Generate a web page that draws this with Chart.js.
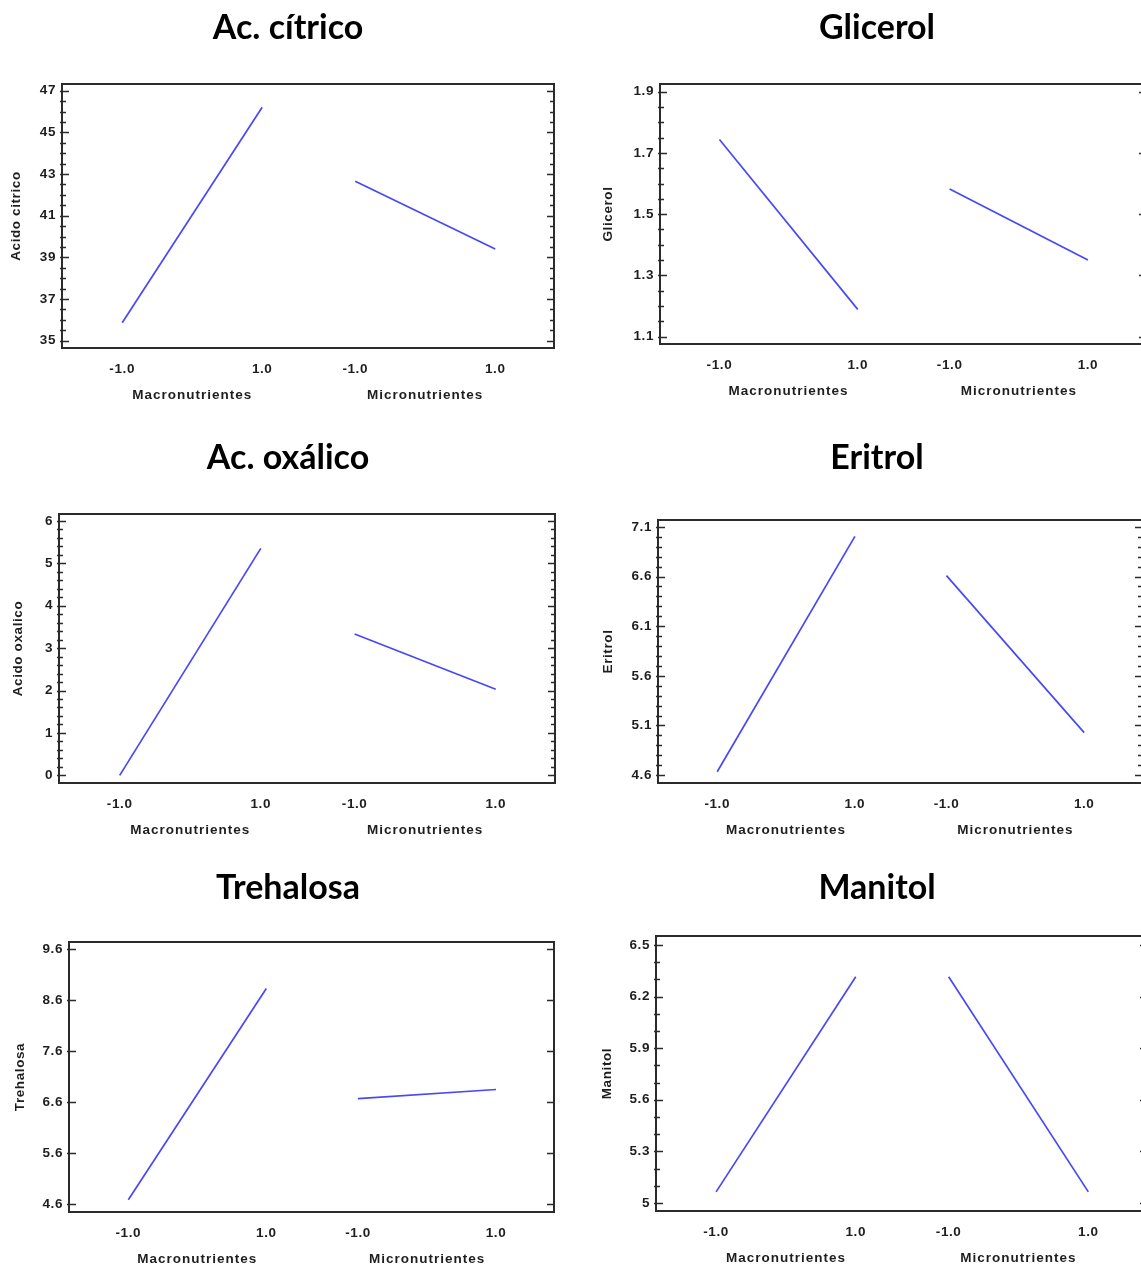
<!DOCTYPE html>
<html>
<head>
<meta charset="utf-8">
<script src="https://cdn.jsdelivr.net/npm/chart.js@4.4.1/dist/chart.umd.min.js"></script>
<style>
html, body { margin: 0; padding: 0; background: #fff; overflow: hidden; }
#page { position: relative; width: 1141px; height: 1266px; overflow: hidden; background: #fff; }
canvas { position: absolute; }
</style>
</head>
<body>
<div id="page">
  <canvas id="citrico" width="576" height="420" style="left:0;top:0"></canvas>
  <canvas id="glicerol" width="576" height="420" style="left:589px;top:0"></canvas>
  <canvas id="oxalico" width="576" height="420" style="left:0;top:430px"></canvas>
  <canvas id="eritrol" width="576" height="420" style="left:589px;top:430px"></canvas>
  <canvas id="trehalosa" width="576" height="406" style="left:0;top:860px"></canvas>
  <canvas id="manitol" width="576" height="406" style="left:589px;top:860px"></canvas>
</div>
<script>
// --- datos ---
const levels = [-1, 1];
const levelLabels = ['-1.0', '1.0'];
const factorNames = ['Macronutrientes', 'Micronutrientes'];
const microShift = 3.33;   // separación del segundo factor en el eje x

const citricoMacro = [35.86, 46.2];
const citricoMicro = [42.65, 39.4];
const citricoTicks = [35, 37, 39, 41, 43, 45, 47];

const glicerolMacro = [1.744, 1.189];
const glicerolMicro = [1.582, 1.35];
const glicerolTicks = [1.1, 1.3, 1.5, 1.7, 1.9];

const oxalicoMacro = [0.0, 5.35];
const oxalicoMicro = [3.33, 2.03];
const oxalicoTicks = [0, 1, 2, 3, 4, 5, 6];

const eritrolMacro = [4.633, 7.005];
const eritrolMicro = [6.61, 5.027];
const eritrolTicks = [4.6, 5.1, 5.6, 6.1, 6.6, 7.1];

const trehalosaMacro = [4.69, 8.83];
const trehalosaMicro = [6.67, 6.85];
const trehalosaTicks = [4.6, 5.6, 6.6, 7.6, 8.6, 9.6];

const manitolMacro = [5.064, 6.315];
const manitolMicro = [6.315, 5.064];
const manitolTicks = [5, 5.3, 5.6, 5.9, 6.2, 6.5];

// --- paneles ---
const panels = [
  { id: 'citrico', title: 'Ac. cítrico', yTitle: 'Acido citrico', macro: citricoMacro, micro: citricoMicro,
    ticks: citricoTicks, minor: 0.5, yMin: 34.65, yMax: 47.32, yTitleX: 16,
    box: { left: 62, top: 84, right: 554, bottom: 348 } },
  { id: 'glicerol', title: 'Glicerol', yTitle: 'Glicerol', macro: glicerolMacro, micro: glicerolMicro,
    ticks: glicerolTicks, minor: 0.05, yMin: 1.076, yMax: 1.925, yTitleX: 19,
    box: { left: 71, top: 84, right: 557, bottom: 344 } },
  { id: 'oxalico', title: 'Ac. oxálico', yTitle: 'Acido oxalico', macro: oxalicoMacro, micro: oxalicoMicro,
    ticks: oxalicoTicks, minor: 0.2, yMin: -0.18, yMax: 6.16, yTitleX: 18,
    box: { left: 59, top: 84, right: 555, bottom: 353 } },
  { id: 'eritrol', title: 'Eritrol', yTitle: 'Eritrol', macro: eritrolMacro, micro: eritrolMicro,
    ticks: eritrolTicks, minor: 0.1, yMin: 4.52, yMax: 7.17, yTitleX: 19,
    box: { left: 69, top: 90, right: 553, bottom: 353 } },
  { id: 'trehalosa', title: 'Trehalosa', yTitle: 'Trehalosa', macro: trehalosaMacro, micro: trehalosaMicro,
    ticks: trehalosaTicks, minor: null, yMin: 4.45, yMax: 9.74, yTitleX: 20,
    box: { left: 69, top: 82, right: 554, bottom: 352 } },
  { id: 'manitol', title: 'Manitol', yTitle: 'Manitol', macro: manitolMacro, micro: manitolMicro,
    ticks: manitolTicks, minor: 0.1, yMin: 4.953, yMax: 6.552, yTitleX: 18,
    box: { left: 67, top: 76, right: 558, bottom: 351 } }
];

const LINE_COLOR = '#4848f4';
const TEXT_COLOR = '#1e1e1e';
const AXIS_FONT = '"Liberation Sans", Arial, sans-serif';
const X_AXIS_H = 40;

// Título centrado en el lienzo, marco, marcas hacia dentro y nombres de los factores
const boxPlugin = {
  id: 'boxTicks',
  beforeDraw(chart) {
    chart.ctx.letterSpacing = '0.6px';
  },
  afterDraw(chart) {
    const p = chart.options.plugins.boxTicks;
    const { ctx, chartArea: a } = chart;
    const x = chart.scales.x, y = chart.scales.y;
    ctx.save();
    ctx.strokeStyle = '#2b2b2b';
    ctx.lineWidth = 1.5;
    const tick = (v, len) => {
      const py = Math.round(y.getPixelForValue(v)) + 0.5;
      ctx.beginPath();
      ctx.moveTo(a.left - 2, py); ctx.lineTo(a.left + len, py);
      ctx.moveTo(a.right, py); ctx.lineTo(a.right - len, py);
      ctx.stroke();
    };
    p.ticks.forEach(v => tick(v, 7));
    if (p.minor) {
      const first = p.ticks[0], last = p.ticks[p.ticks.length - 1];
      const n = Math.round((last - first) / p.minor);
      for (let k = 0; k <= n; k++) {
        const v = first + k * p.minor;
        if (!p.ticks.some(t => Math.abs(t - v) < 1e-6)) tick(v, 4);
      }
    }
    ctx.lineWidth = 2;
    ctx.strokeRect(a.left, a.top, a.right - a.left, a.bottom - a.top);

    ctx.fillStyle = TEXT_COLOR;
    ctx.font = 'bold 13.5px ' + AXIS_FONT;
    ctx.letterSpacing = '1px';
    ctx.textAlign = 'center';
    ctx.textBaseline = 'middle';
    factorNames.forEach((name, i) => {
      const x0 = x.getPixelForValue(levels[0] + i * microShift);
      const x1 = x.getPixelForValue(levels[1] + i * microShift);
      ctx.fillText(name, (x0 + x1) / 2, a.bottom + 47);
    });

    ctx.fillStyle = '#000';
    ctx.letterSpacing = '0px';
    ctx.font = 'bold 34px Lato, "Open Sans", sans-serif';
    ctx.fillText(p.title, chart.width / 2, 28);
    ctx.restore();
  }
};

function buildChart(p) {
  const canvas = document.getElementById(p.id);
  const W = canvas.width, H = canvas.height;
  const xTicks = [levels[0], levels[1], levels[0] + microShift, levels[1] + microShift];

  new Chart(canvas.getContext('2d'), {
    type: 'line',
    data: {
      datasets: [
        { data: levels.map((l, i) => ({ x: l, y: p.macro[i] })) },
        { data: levels.map((l, i) => ({ x: l + microShift, y: p.micro[i] })) }
      ]
    },
    options: {
      responsive: false,
      animation: false,
      events: [],
      layout: { padding: { left: 0, top: p.box.top, right: W - p.box.right, bottom: H - p.box.bottom - X_AXIS_H } },
      elements: {
        line: { borderColor: LINE_COLOR, borderWidth: 1.7, tension: 0 },
        point: { radius: 0 }
      },
      scales: {
        x: {
          type: 'linear', min: -1.86, max: 5.17,
          grid: { display: false, drawTicks: false },
          border: { display: false },
          afterBuildTicks: s => { s.ticks = xTicks.map(v => ({ value: v })); },
          afterFit: s => { s.height = X_AXIS_H; },
          ticks: {
            padding: 13, color: TEXT_COLOR, autoSkip: false, maxRotation: 0,
            font: { family: AXIS_FONT, size: 13.5, weight: 'bold' },
            callback: (v, i) => levelLabels[i % 2]
          }
        },
        y: {
          type: 'linear', min: p.yMin, max: p.yMax,
          grid: { display: false, drawTicks: false },
          border: { display: false },
          afterBuildTicks: s => { s.ticks = p.ticks.map(v => ({ value: v })); },
          afterFit: s => { s.width = p.box.left; },
          ticks: {
            padding: 6, color: TEXT_COLOR, autoSkip: false,
            font: { family: AXIS_FONT, size: 13.5, weight: 'bold' },
            callback: v => String(+v.toFixed(2))
          },
          title: {
            display: true, text: p.yTitle, color: TEXT_COLOR,
            font: { family: AXIS_FONT, size: 13.5, weight: 'bold' },
            padding: { top: p.yTitleX - 8.1, bottom: 0 }
          }
        }
      },
      plugins: {
        legend: { display: false },
        tooltip: { enabled: false },
        title: { display: false },
        boxTicks: { ticks: p.ticks, minor: p.minor, title: p.title }
      }
    },
    plugins: [boxPlugin]
  });
}

panels.forEach(buildChart);
</script>
</body>
</html>
